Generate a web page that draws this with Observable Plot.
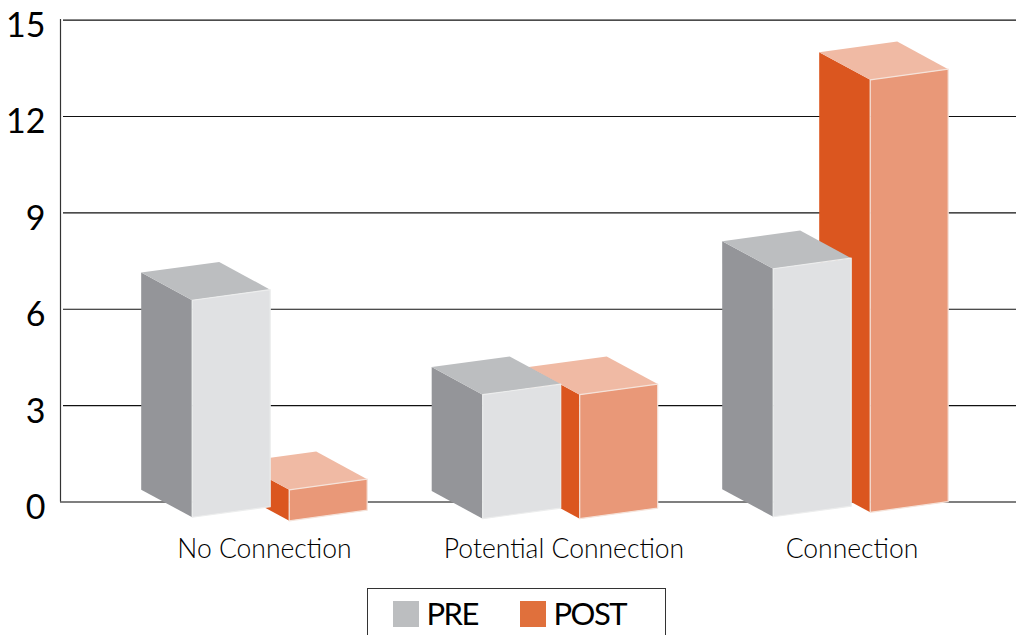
<!DOCTYPE html>
<html>
<head>
<meta charset="utf-8">
<script src="https://cdn.jsdelivr.net/npm/d3@7"></script>
<script src="https://cdn.jsdelivr.net/npm/@observablehq/plot@0.6"></script>
<style>
html,body{margin:0;padding:0;background:#fff;width:1016px;height:635px;overflow:hidden;font-family:Lato,sans-serif;color:#111}
#chart svg{display:block;background:#fff;overflow:visible}
#legend{position:absolute;left:367px;top:588px;width:299px;height:60px;border:1.5px solid #333;box-sizing:border-box}
#legend .sw{position:absolute;top:12px;width:26px;height:26px}
#legend .lb{position:absolute;top:6px;font-size:31px;line-height:36px;letter-spacing:-1.5px;font-weight:400;color:#000}
</style>
</head>
<body>
<div id="chart"></div>
<div id="legend"></div>
<script>
const categories = ["No Connection", "Potential Connection", "Connection"];
const seriesNames = ["PRE", "POST"];
const preValues = [7, 4, 8];
const postValues = [1, 4, 13.95];
const yTicks = [0, 3, 6, 9, 12, 15];

// Projection of the drawn boxes (x in chart units, y in value units)
const groupStart = 131.7, groupStep = 290.5, seriesStep = 97;
const barW = 78, depthX = 51;
const depthY = 0.86, riseY = 0.33, heightK = 0.965;
const preDrop = [0.475, 0.52, 0.46];
const postDrop = [0.585, 0.52, 0.32];
const labelCenters = [204, 503.5, 791.5];

const palette = {
  PRE: {top: "#bcbec0", side: "#949599", front: "#e0e1e3", edge: "#eceded", key: "#bcbec0"},
  POST: {top: "#f0baa4", side: "#db561f", front: "#e99878", edge: "#f5e3da", key: "#e0703c"}
};

function faces(values, drop, s) {
  const side = [], top = [], front = [];
  values.forEach((v, g) => {
    const x0 = groupStart + groupStep * g + seriesStep * s, x1 = x0 + barW, xb = x0 - depthX;
    const b = -drop[g], t = b + v * heightK;
    front.push(...[[x0, b], [x1, b + riseY], [x1, t + riseY], [x0, t], [x0, b]].map(([x, y]) => ({id: g, x, y})));
    side.push(...[[x0, b], [x0, t], [xb, t + depthY], [xb, b + depthY]].map(([x, y]) => ({id: g, x, y})));
    top.push(...[[x0, t], [x1, t + riseY], [x1 - depthX, t + riseY + depthY], [xb, t + depthY]].map(([x, y]) => ({id: g, x, y})));
  });
  return {side, top, front};
}

function boxMarks(values, drop, s) {
  const f = faces(values, drop, s), c = palette[seriesNames[s]];
  const o = {x: "x", y: "y", z: "id", curve: "linear"};
  return [
    Plot.line(f.side, {...o, fill: c.side, stroke: "none"}),
    Plot.line(f.top, {...o, fill: c.top, stroke: "none"}),
    Plot.line(f.front, {...o, fill: c.front, stroke: c.edge, strokeWidth: 1.2})
  ];
}

const plot = Plot.plot({
  width: 1016, height: 588,
  marginLeft: 60, marginRight: 0, marginTop: 19.6, marginBottom: 86.5,
  style: {fontFamily: "Lato, sans-serif", color: "#000"},
  x: {domain: [0, 956], axis: null},
  y: {domain: [0, 15], axis: null},
  marks: [
    Plot.ruleY(yTicks.filter(d => d > 0), {x1: 3, x2: 956, stroke: "#111", strokeWidth: 1.1}),
    Plot.ruleY([0], {x1: 0, x2: 956, stroke: "#555", strokeWidth: 1.3}),
    Plot.ruleX([0], {y1: 0, y2: 15.02, stroke: "#333", strokeWidth: 1.2}),
    ...boxMarks(postValues, postDrop, 1),
    ...boxMarks(preValues, preDrop, 0),
    Plot.axisY({ticks: yTicks, tickSize: 0, tickPadding: 15, fontSize: 34, dy: 6, fontWeight: 400, label: null, line: false}),
    Plot.axisX({ticks: labelCenters, tickFormat: (d, i) => categories[i], tickSize: 0, fontSize: 26.5, fontWeight: 300, label: null,
      tickPadding: 0, dy: 37.5, fill: "#000"})
  ]
});
document.getElementById("chart").append(plot);

const legend = document.getElementById("legend");
const swLeft = [24.5, 151.5], lbLeft = [58.5, 185.5];
seriesNames.forEach((n, i) => {
  const sw = document.createElement("div");
  sw.className = "sw"; sw.style.left = swLeft[i] + "px"; sw.style.background = palette[n].key;
  const lb = document.createElement("div");
  lb.className = "lb"; lb.style.left = lbLeft[i] + "px"; lb.textContent = n;
  legend.append(sw, lb);
});
</script>
</body>
</html>
